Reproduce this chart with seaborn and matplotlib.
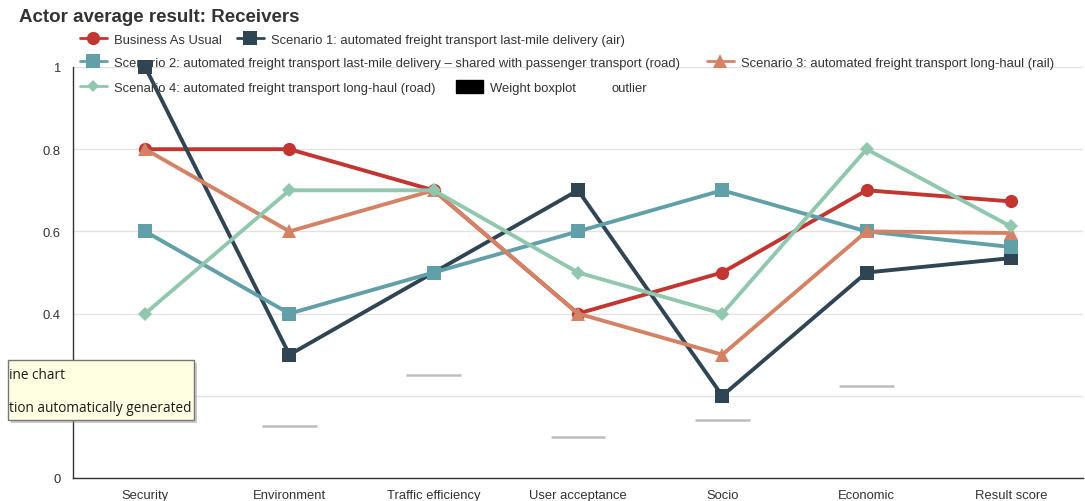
import numpy as np
import pandas as pd
import matplotlib
matplotlib.use("Agg")
import matplotlib.pyplot as plt
import seaborn as sns
from matplotlib.lines import Line2D
from matplotlib.patches import Patch, Rectangle
from matplotlib.legend import Legend

# ---------------- data ----------------
categories = ["Security", "Environment", "Traffic efficiency", "User acceptance",
              "Socio", "Economic", "Result score"]
series_names = [
    "Business As Usual",
    "Scenario 1: automated freight transport last-mile delivery (air)",
    "Scenario 2: automated freight transport last-mile delivery \u2013 shared with passenger transport (road)",
    "Scenario 3: automated freight transport long-haul (rail)",
    "Scenario 4: automated freight transport long-haul (road)",
]
bau = [0.8, 0.8, 0.7, 0.4, 0.5, 0.7, 0.673]
scenario1 = [1.0, 0.3, 0.5, 0.7, 0.2, 0.5, 0.535]
scenario2 = [0.6, 0.4, 0.5, 0.6, 0.7, 0.6, 0.562]
scenario3 = [0.8, 0.6, 0.7, 0.4, 0.3, 0.6, 0.596]
scenario4 = [0.4, 0.7, 0.7, 0.5, 0.4, 0.8, 0.612]
weights = [np.nan, 0.127, 0.25, 0.10, 0.141, 0.224, np.nan]
y_ticks = [0, 0.2, 0.4, 0.6, 0.8, 1.0]
y_tick_labels = ["0", "", "0.4", "0.6", "0.8", "1"]  # 0.2 label is hidden by the tooltip
title = "Actor average result: Receivers"
weight_label = "Weight boxplot"
outlier_label = "outlier"
tooltip_lines = ["ine chart", "tion automatically generated"]

colors = ["#c23531", "#2f4554", "#61a0a8", "#d48265", "#91c7ae"]
markers = ["o", "s", "s", "^", "D"]
msizes = [9.5, 9.5, 9.5, 9.5, 7]

# ---------------- figure ----------------
W, H = 1085, 502
sns.set_theme(style="white")
plt.rcParams["font.family"] = ["Liberation Sans", "DejaVu Sans"]
fig = plt.figure(figsize=(W / 100, H / 100), dpi=100)

def fx(x):
    return x / W

def fy(y):
    return 1 - y / H

ax = fig.add_axes([fx(73), fy(479), (1083 - 73) / W, (479 - 68) / H])

all_series = [bau, scenario1, scenario2, scenario3, scenario4]
for name, vals, c, m, ms in zip(series_names, all_series, colors, markers, msizes):
    df = pd.DataFrame({"category": categories, "value": vals})
    sns.lineplot(data=df, x="category", y="value", ax=ax, color=c, lw=2.8,
                 marker=m, markersize=ms, markeredgewidth=0, clip_on=False,
                 zorder=3, sort=False)

# weight "boxplot" median marks
xpos = np.arange(len(categories))
ax.hlines(weights, xpos - 0.19, xpos + 0.19, colors="#bdbdbd", lw=1.8, zorder=2)

ax.set_xlim(-0.5, len(categories) - 0.5)
ax.set_ylim(0, 1)
ax.set_xlabel("")
ax.set_ylabel("")
ax.set_yticks(y_ticks)
ax.set_yticklabels(y_tick_labels)
ax.set_xticks(xpos)
ax.set_xticklabels(categories)
ax.set_xticks(np.arange(-0.5, len(categories), 1), minor=True)
ax.tick_params(axis="x", which="major", length=0, pad=8, labelsize=9.4, labelcolor="#333333")
ax.tick_params(axis="x", which="minor", length=5, width=1, color="#333333", direction="out")
ax.tick_params(axis="y", length=5, width=1, color="#333333", direction="out",
               labelsize=9.4, labelcolor="#333333", pad=4)
ax.yaxis.grid(True, color="#e2e2e2", lw=1)
ax.xaxis.grid(False)
for s in ["top", "right"]:
    ax.spines[s].set_visible(False)
for s in ["left", "bottom"]:
    ax.spines[s].set_color("#333333")
    ax.spines[s].set_linewidth(1)
ax.set_axisbelow(True)

# title
fig.text(fx(19), fy(17), title, fontsize=13.5, fontweight="bold", color="#333333",
         ha="left", va="center")

# ---------------- legend (flowing rows, one entry each) ----------------
def line_handle(c, m, ms):
    return Line2D([0], [0], color=c, lw=2, marker=m, markersize=ms, markeredgewidth=0)

entries = [
    (line_handle(colors[0], markers[0], msizes[0]), series_names[0], 80, 40),
    (line_handle(colors[1], markers[1], msizes[1]), series_names[1], 237, 40),
    (line_handle(colors[2], markers[2], msizes[2]), series_names[2], 80, 63),
    (line_handle(colors[3], markers[3], msizes[3]), series_names[3], 707, 63),
    (line_handle(colors[4], markers[4], msizes[4] - 0.5), series_names[4], 80, 88),
    (Patch(facecolor="black", edgecolor="black"), weight_label, 456, 88),
    (Line2D([0], [0], color="none"), outlier_label, 578, 88),
]
for h, lab, x, y in entries:
    leg = Legend(ax, [h], [lab], loc="center left",
                 bbox_to_anchor=(fx(x), fy(y)), bbox_transform=fig.transFigure,
                 frameon=False, fontsize=9.4, handlelength=2.05, handletextpad=0.55,
                 handleheight=1.1, borderpad=0, borderaxespad=0, labelcolor="#333333")
    leg.set_zorder(1)
    ax.add_artist(leg)

# ---------------- tooltip overlay ----------------
shadow = Rectangle((fx(11), fy(424)), fx(194 - 8), (421 - 361) / H, transform=fig.transFigure,
                   facecolor="#9a9a9a", edgecolor="none", alpha=0.5, zorder=9)
fig.add_artist(shadow)
box = Rectangle((fx(8), fy(421)), fx(194 - 8), (421 - 361) / H, transform=fig.transFigure,
                facecolor="#ffffe1", edgecolor="#767676", lw=1, zorder=10)
fig.add_artist(box)
fig.text(fx(9), fy(376), tooltip_lines[0], fontsize=9.8, color="#1a1a1a",
         family=["Open Sans", "DejaVu Sans"], ha="left", va="center", zorder=11)
fig.text(fx(9), fy(409), tooltip_lines[1], fontsize=9.8, color="#1a1a1a",
         family=["Open Sans", "DejaVu Sans"], ha="left", va="center", zorder=11)

fig.savefig("out.png", dpi=100)
